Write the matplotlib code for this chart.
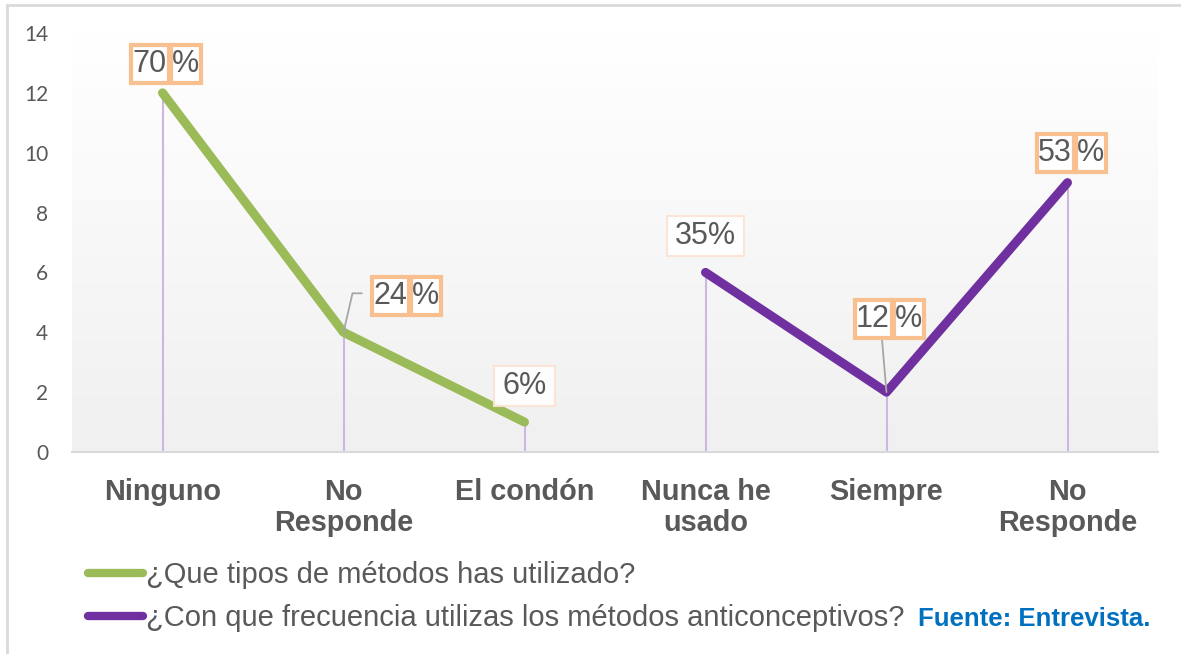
import matplotlib
matplotlib.use("Agg")
import matplotlib.pyplot as plt
import numpy as np
from matplotlib.lines import Line2D
from matplotlib.patches import Rectangle
from matplotlib.path import Path
from matplotlib.colors import LinearSegmentedColormap
from matplotlib.transforms import ScaledTranslation

categories = ["Ninguno", "No\nResponde", "El condón", "Nunca he\nusado", "Siempre", "No\nResponde"]
series1_name = "¿Que tipos de métodos has utilizado?"
series2_name = "¿Con que frecuencia utilizas los métodos anticonceptivos?"
series1_values = [12, 4, 1]
series2_values = [6, 2, 9]
series1_labels = ["70%", "24%", "6%"]
series2_labels = ["35%", "12%", "53%"]
yticks = [0, 2, 4, 6, 8, 10, 12, 14]
source_text = "Fuente: Entrevista."

GREEN = "#9BBB59"
PURPLE = "#7030A0"
TXT = "#595959"
ORANGE = "#F9C08F"
FAINT = "#FBE3D3"
DROP = "#CDB6E0"

W, H = 1181, 654
DPI = 100
fig = plt.figure(figsize=(W / DPI, H / DPI), dpi=DPI)
fig.patch.set_facecolor("white")


class PadBox:
    """Rectangular box with separate horizontal / vertical padding (in pixels)."""
    def __init__(self, padx, pady):
        self.padx = padx
        self.pady = pady

    def __call__(self, x0, y0, width, height, mutation_size):
        px, py = self.padx, self.pady
        x0, y0 = x0 - px, y0 - py
        x1, y1 = x0 + width + 2 * px, y0 + height + 2 * py
        return Path([(x0, y0), (x1, y0), (x1, y1), (x0, y1), (x0, y0)], closed=True)


# outer frame (top and left edges visible)
fig.patches.append(Rectangle((7 / W, -0.1), 1.2, 1 - 5 / H + 0.1, transform=fig.transFigure,
                             fill=False, edgecolor="#D9D9D9", lw=2, zorder=0))

ax = fig.add_axes([72 / W, 1 - 452 / H, (1158 - 72) / W, (452 - 33) / H])

# gradient background (white at top, light grey at bottom)
grad = np.linspace(1, 0, 256).reshape(-1, 1)
cmap = LinearSegmentedColormap.from_list("bg", ["#FFFFFF", "#F0F0F0"])
ax.imshow(grad, extent=[-0.5, 5.5, 0, 14], aspect="auto", cmap=cmap, zorder=0, origin="lower")
ax.set_xlim(-0.5, 5.5)
ax.set_ylim(0, 14)

x1 = np.arange(len(series1_values))
x2 = np.arange(len(series1_values), len(series1_values) + len(series2_values))

# drop lines
ax.vlines(x1, 0, series1_values, color=DROP, lw=1.5, zorder=2)
ax.vlines(x2, 0, series2_values, color=DROP, lw=1.5, zorder=2)

ax.plot(x1, series1_values, color=GREEN, lw=6.5, solid_capstyle="round", solid_joinstyle="round", zorder=3)
ax.plot(x2, series2_values, color=PURPLE, lw=6.5, solid_capstyle="round", solid_joinstyle="round", zorder=3)

FS = 22
PT = 0.72  # points per pixel


def split_label(x, y, text, dx, dy, leader=None):
    num, pct = text[:-1], text[-1]
    kw = dict(xy=(x, y), textcoords="offset points", fontsize=FS, color=TXT,
              family="Liberation Sans", va="center", zorder=6)
    arrow = None
    if leader == "bent":
        arrow = dict(arrowstyle="-", color="#A6A6A6", lw=1.3, shrinkA=6, shrinkB=0,
                     relpos=(0, 0.6), connectionstyle="angle,angleA=0,angleB=77,rad=0")
    elif leader == "down":
        arrow = dict(arrowstyle="-", color="#A6A6A6", lw=1.3, shrinkA=0, shrinkB=0,
                     relpos=(0.75, 0))
    ax.annotate(num, xytext=((dx - 2.5) * PT, dy * PT), ha="right",
                bbox=dict(boxstyle=PadBox(1.5, 4), fc="white", ec=ORANGE, lw=3),
                arrowprops=arrow, **kw)
    ax.annotate(pct, xytext=((dx + 2.5) * PT, dy * PT), ha="left",
                bbox=dict(boxstyle=PadBox(1.5, 4), fc="white", ec=ORANGE, lw=3), **kw)


def faint_label(x, y, text, dx, dy):
    ax.annotate(text, xy=(x, y), xytext=(dx * PT, dy * PT), textcoords="offset points",
                fontsize=FS, color=TXT, family="Liberation Sans", ha="center", va="center",
                bbox=dict(boxstyle=PadBox(8, 5), fc="white", ec=FAINT, lw=1.5, alpha=0.9), zorder=6)


split_label(x1[0], series1_values[0], series1_labels[0], 7, 29)
split_label(x1[1], series1_values[1], series1_labels[1], 66, 36, leader="bent")
faint_label(x1[2], series1_values[2], series1_labels[2], 0, 36)
faint_label(x2[0], series2_values[0], series2_labels[0], 0, 36)
split_label(x2[1], series2_values[1], series2_labels[1], 6, 73, leader="down")
split_label(x2[2], series2_values[2], series2_labels[2], 7, 30)

# axes styling
for s in ["top", "right", "left"]:
    ax.spines[s].set_visible(False)
ax.spines["bottom"].set_color("#D9D9D9")
ax.spines["bottom"].set_linewidth(1.5)
ax.spines["bottom"].set_zorder(4)
ax.set_yticks(yticks)
ax.set_yticklabels([str(v) for v in yticks], fontsize=15, color=TXT, family="Lato")
shift = ScaledTranslation(0, -4 / DPI, fig.dpi_scale_trans)
for lab in ax.get_yticklabels():
    lab.set_transform(lab.get_transform() + shift)
ax.set_xticks(range(len(categories)))
ax.set_xticklabels(categories, fontsize=20.8, fontweight="bold", color=TXT,
                   family="Liberation Sans", linespacing=1.1)
ax.tick_params(axis="both", length=0)
ax.tick_params(axis="x", pad=19)
ax.tick_params(axis="y", pad=17)

handles = [Line2D([0], [0], color=GREEN, lw=6, solid_capstyle="round"),
           Line2D([0], [0], color=PURPLE, lw=6, solid_capstyle="round")]
leg = fig.legend(handles, [series1_name, series2_name], loc="upper left",
                 bbox_to_anchor=(88 / W, 1 - 561 / H), frameon=False,
                 prop=dict(family="Liberation Sans", size=21),
                 handlelength=1.9, handletextpad=0.1, labelspacing=0.52, borderaxespad=0,
                 borderpad=0)
for t in leg.get_texts():
    t.set_color(TXT)

fig.text(918 / W, 1 - 619 / H, source_text, fontsize=18.5, fontweight="bold", color="#0070C0",
         family="Liberation Sans", ha="left", va="center")

fig.savefig("out.png", dpi=DPI)
